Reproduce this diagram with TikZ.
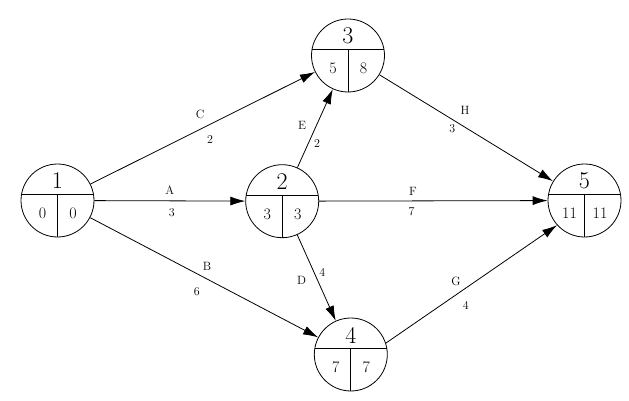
\documentclass[tikz,border=0pt]{standalone}
\usepackage{tikz}
\usetikzlibrary{arrows.meta}

\begin{document}
\begin{tikzpicture}[
    x=1pt, y=1pt,
    event/.style={circle, draw, line width=0.8pt, minimum size=73pt, inner sep=0pt},
    num/.style={font=\fontsize{24}{28}\selectfont},
    time/.style={font=\fontsize{16}{18}\selectfont},
    lbl/.style={font=\fontsize{12}{14}\selectfont, inner sep=0pt},
    arrow/.style={-{Latex[length=15pt, width=9pt]}, line width=0.8pt}
]
    \useasboundingbox (0,0) rectangle (629,-401);

    % events
    \node[event] (n1) at (57.5,-200.5) {};
    \node[event] (n2) at (282.2,-201.2) {};
    \node[event] (n3) at (348,-55.5) {};
    \node[event] (n4) at (350.8,-354.5) {};
    \node[event] (n5) at (584.5,-200.5) {};

    % dividers and times
    \foreach \n/\k/\e/\l in {n1/1/0/0, n2/2/3/3, n3/3/5/8, n4/4/7/7, n5/5/11/11} {
        \draw[line width=0.8pt] ([shift={(-36,6)}]\n.center) -- ([shift={(36,6)}]\n.center);
        \draw[line width=0.8pt] ([yshift=6pt]\n.center) -- (\n.south);
        \node[num] (\n k) at ([yshift=19.5pt]\n.center) {\k};
        \node[time] (\n e) at ([shift={(-15,-13)}]\n.center) {\e};
        \node[time] (\n l) at ([shift={(15.5,-13)}]\n.center) {\l};
    }

    % activities
    \draw[arrow] (n1) -- node[lbl, yshift=11pt] {A} node[lbl, xshift=2pt, yshift=-11.5pt] {3} (n2);
    \draw[arrow] (n1) -- node[lbl, xshift=-2.7pt, yshift=14pt] {C} node[lbl, xshift=7.3pt, yshift=-12pt] {2} (n3);
    \draw[arrow] (n1) -- node[lbl, xshift=2.9pt, yshift=11.5pt] {B} node[lbl, xshift=-7.4pt, yshift=-14.2pt] {6} (n4);
    \draw[arrow] (n2) -- node[lbl, xshift=-13pt, yshift=3.3pt] {E} node[lbl, xshift=1.9pt, yshift=-14.7pt] {2} (n3);
    \draw[arrow] (n2) -- node[lbl, xshift=-14.8pt, yshift=-2.2pt] {D} node[lbl, xshift=5.8pt, yshift=5.1pt] {4} (n4);
    \draw[arrow] (n2) -- node[lbl, xshift=-20.4pt, yshift=9pt] {F} node[lbl, xshift=-21.7pt, yshift=-11pt] {7} (n5);
    \draw[arrow] (n3) -- node[lbl, xshift=-1.3pt, yshift=18pt] {H} node[lbl, xshift=-14pt, yshift=-0.3pt] {3} (n5);
    \draw[arrow] (n4.18) -- node[lbl, xshift=-15.5pt, yshift=2.3pt] {G} node[lbl, xshift=-5.8pt, yshift=-21pt] {4} (n5.222);
\end{tikzpicture}
\end{document}
